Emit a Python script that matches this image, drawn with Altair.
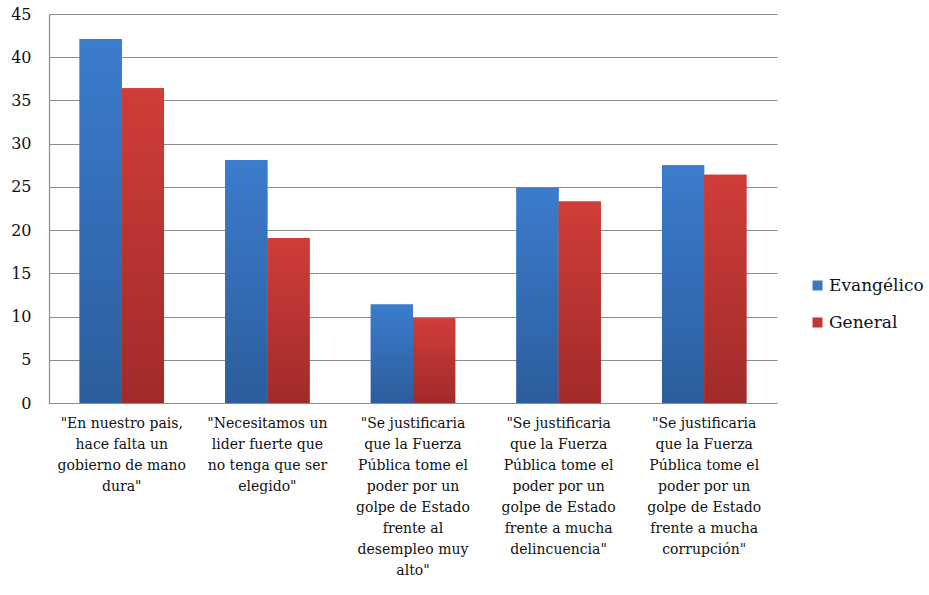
import altair as alt
import pandas as pd

# Survey statements (line breaks mark how each axis label wraps)
categories = [
    '"En nuestro pais,\nhace falta un\ngobierno de mano\ndura"',
    '"Necesitamos un\nlider fuerte que\nno tenga que ser\nelegido"',
    '"Se justificaria\nque la Fuerza\nPública tome el\npoder por un\ngolpe de Estado\nfrente al\ndesempleo muy\nalto"',
    '"Se justificaria\nque la Fuerza\nPública tome el\npoder por un\ngolpe de Estado\nfrente a mucha\ndelincuencia"',
    '"Se justificaria\nque la Fuerza\nPública tome el\npoder por un\ngolpe de Estado\nfrente a mucha\ncorrupción"',
]
series = ["Evangélico", "General"]
evangelico = [42.1, 28.1, 11.4, 24.9, 27.5]
general = [36.4, 19.1, 9.8, 23.3, 26.4]
y_ticks = [0, 5, 10, 15, 20, 25, 30, 35, 40, 45]

solid = ["#3a78c6", "#c23835"]
gradients = {
    "Evangélico": {"gradient": "linear", "x1": 0, "y1": 0, "x2": 0, "y2": 1,
                   "stops": [{"offset": 0, "color": "#3b7ccd"},
                             {"offset": 1, "color": "#2c5d9c"}]},
    "General": {"gradient": "linear", "x1": 0, "y1": 0, "x2": 0, "y2": 1,
                "stops": [{"offset": 0, "color": "#d03d38"},
                          {"offset": 1, "color": "#a02b29"}]},
}

rows = []
for cat, e, g in zip(categories, evangelico, general):
    rows.append({"pregunta": cat, "grupo": "Evangélico", "valor": e})
    rows.append({"pregunta": cat, "grupo": "General", "valor": g})
df = pd.DataFrame(rows)

FONT = "DejaVu Serif"

x_enc = alt.X(
    "pregunta:N",
    sort=categories,
    title=None,
    scale=alt.Scale(paddingInner=0.42, paddingOuter=0.21),
    axis=alt.Axis(
        labelAngle=0,
        labelExpr="split(datum.label, '\\n')",
        labelFont=FONT,
        labelFontSize=14,
        labelColor="#111111",
        labelLineHeight=21,
        labelPadding=13,
        labelLimit=200,
        ticks=False,
        domainColor="#8c8c8c",
        domainWidth=1.2,
        grid=False,
    ),
)
y_enc = alt.Y(
    "valor:Q",
    title=None,
    scale=alt.Scale(domain=[0, 45], nice=False),
    axis=alt.Axis(
        values=y_ticks,
        labelFont=FONT,
        labelFontSize=16,
        labelColor="#111111",
        labelPadding=18,
        ticks=False,
        domainColor="#8c8c8c",
        domainWidth=1.2,
        gridColor="#8c8c8c",
        gridWidth=1.2,
    ),
)
xoff = alt.XOffset("grupo:N", sort=series,
                   scale=alt.Scale(domain=series, paddingInner=0, paddingOuter=0))

base = alt.Chart(df).mark_bar().encode(
    x=x_enc,
    y=y_enc,
    xOffset=xoff,
    color=alt.Color(
        "grupo:N",
        sort=series,
        scale=alt.Scale(domain=series, range=solid),
        legend=alt.Legend(
            title=None,
            orient="none",
            legendX=760,
            legendY=263,
            symbolType="square",
            symbolSize=100,
            symbolStrokeWidth=0,
            labelFont=FONT,
            labelFontSize=17,
            labelColor="#111111",
            rowPadding=19,
            labelOffset=3,
        ),
    ),
)

layers = [base]
for s in series:
    layers.append(
        alt.Chart(df)
        .transform_filter(alt.datum.grupo == s)
        .mark_bar(fill=gradients[s])
        .encode(x=x_enc, y=y_enc, xOffset=xoff)
    )

chart = (
    alt.layer(*layers)
    .properties(
        width=728,
        height=389,
        autosize=alt.AutoSizeParams(type="none"),
        padding={"left": 49, "top": 14, "right": 152, "bottom": 192},
        background="white",
    )
    .configure_view(stroke=None)
)

chart.save("out.html", embed_options={"renderer": "svg", "actions": False})
